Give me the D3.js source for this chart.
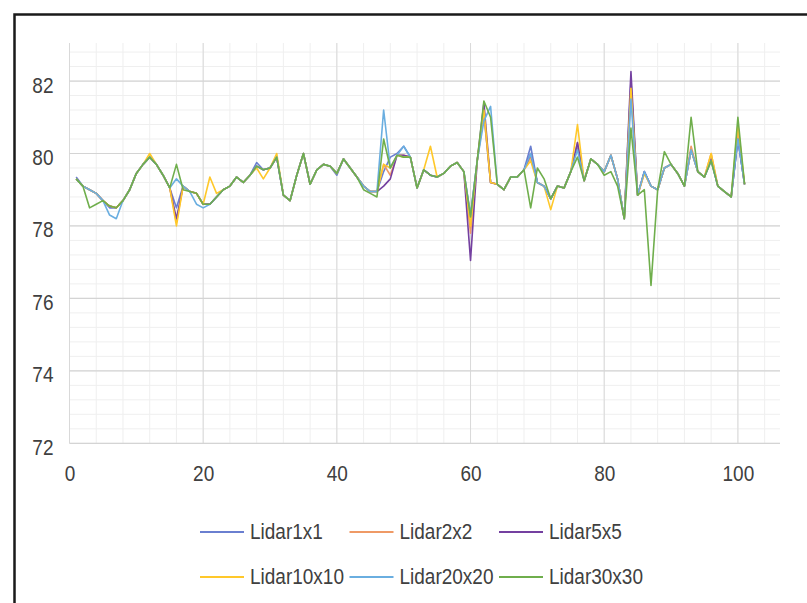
<!DOCTYPE html>
<html>
<head>
<meta charset="utf-8">
<script src="https://cdn.jsdelivr.net/npm/d3@7"></script>
<style>
  body { margin: 0; background: #fff; }
  text { font-family: "Liberation Sans", Arial, sans-serif; fill: #404040; }
</style>
</head>
<body>
<div id="chart"></div>
<script>
// sample index 1..101
var xs = d3.range(1, 102);

var lidar1x1 = [79.35,79.1,79.0,78.9,78.7,78.5,78.5,78.7,79.0,79.45,79.7,79.9,79.7,79.4,79.05,78.5,79.1,78.95,78.9,78.6,78.6,78.8,79.0,79.1,79.35,79.2,79.4,79.75,79.55,79.6,79.9,78.85,78.7,79.4,80.0,79.15,79.55,79.7,79.65,79.4,79.85,79.6,79.35,79.1,78.95,78.95,79.5,79.9,80.0,80.2,79.9,79.05,79.55,79.4,79.35,79.45,79.65,79.75,79.5,78.3,79.8,81.1,79.2,79.15,79.0,79.35,79.35,79.55,80.2,79.2,79.1,78.75,79.1,79.05,79.5,80.2,79.25,79.85,79.7,79.5,79.95,79.3,78.2,82.0,78.85,79.5,79.1,79.0,79.6,79.7,79.45,79.1,80.1,79.5,79.35,79.8,79.1,78.95,78.8,80.4,79.15];
var lidar2x2 = [79.3,79.1,79.0,78.9,78.7,78.55,78.5,78.7,79.0,79.45,79.7,79.9,79.7,79.4,79.05,78.1,79.1,78.95,78.9,78.6,78.6,78.8,79.0,79.1,79.35,79.2,79.4,79.65,79.55,79.6,79.9,78.85,78.7,79.4,80.0,79.15,79.55,79.7,79.65,79.45,79.85,79.6,79.35,79.1,78.95,78.95,79.7,79.4,79.95,79.95,79.9,79.05,79.55,79.4,79.35,79.45,79.65,79.75,79.5,77.8,79.8,81.1,79.2,79.15,79.0,79.35,79.35,79.55,79.9,79.2,79.1,78.75,79.1,79.05,79.5,80.3,79.25,79.85,79.7,79.5,79.95,79.3,78.2,81.8,78.85,79.45,79.1,79.0,79.6,79.7,79.45,79.1,80.2,79.5,79.35,80.0,79.1,78.95,78.8,80.6,79.15];
var lidar5x5 = [79.3,79.1,79.0,78.9,78.7,78.55,78.5,78.7,79.0,79.45,79.7,79.9,79.7,79.4,79.05,78.2,79.1,78.95,78.9,78.6,78.6,78.8,79.0,79.1,79.35,79.2,79.4,79.65,79.55,79.6,79.9,78.85,78.7,79.4,80.0,79.15,79.55,79.7,79.65,79.45,79.85,79.6,79.35,79.1,78.95,78.95,79.1,79.3,79.95,79.95,79.9,79.05,79.55,79.4,79.35,79.45,79.65,79.75,79.5,77.05,79.8,81.4,79.2,79.15,79.0,79.35,79.35,79.55,80.0,79.2,79.1,78.75,79.1,79.05,79.5,80.3,79.25,79.85,79.7,79.5,79.95,79.3,78.2,82.26,78.85,79.5,79.1,79.0,79.6,79.7,79.45,79.1,80.1,79.5,79.35,79.85,79.1,78.95,78.8,80.4,79.15];
var lidar10x10 = [79.3,79.1,79.0,78.9,78.7,78.55,78.5,78.7,79.0,79.45,79.7,80.0,79.7,79.4,79.05,78.0,79.1,78.95,78.9,78.6,79.35,78.9,79.0,79.1,79.35,79.2,79.4,79.6,79.3,79.6,80.0,78.85,78.7,79.4,80.0,79.15,79.55,79.7,79.65,79.45,79.85,79.6,79.35,79.1,78.95,78.95,79.7,79.6,79.95,79.9,79.9,79.05,79.55,80.2,79.35,79.45,79.65,79.75,79.5,78.0,79.8,81.2,79.2,79.15,79.0,79.35,79.35,79.55,79.8,79.2,79.1,78.45,79.1,79.05,79.5,80.8,79.25,79.85,79.7,79.5,79.95,79.3,78.2,81.8,78.85,79.45,79.1,79.0,79.6,79.7,79.45,79.1,80.1,79.5,79.35,80.0,79.1,78.95,78.8,80.8,79.15];
var lidar20x20 = [79.3,79.1,79.0,78.9,78.7,78.3,78.2,78.7,79.0,79.45,79.7,79.9,79.7,79.4,79.05,79.3,79.1,78.95,78.6,78.5,78.6,78.8,79.0,79.1,79.35,79.2,79.4,79.65,79.55,79.6,79.9,78.85,78.7,79.4,80.0,79.15,79.55,79.7,79.65,79.45,79.85,79.6,79.35,79.1,78.95,78.95,81.2,79.6,79.95,80.2,79.9,79.05,79.55,79.4,79.35,79.45,79.65,79.75,79.5,78.3,79.8,80.9,81.3,79.15,79.0,79.35,79.35,79.55,80.0,79.2,79.1,78.75,79.1,79.05,79.5,80.1,79.25,79.85,79.7,79.5,79.95,79.3,78.2,81.5,78.85,79.5,79.1,79.0,79.6,79.7,79.45,79.1,80.1,79.5,79.35,79.8,79.1,78.95,78.8,80.4,79.15];
var lidar30x30 = [79.3,79.1,78.5,78.6,78.7,78.55,78.5,78.7,79.0,79.45,79.7,79.9,79.7,79.4,79.05,79.7,79.0,78.95,78.9,78.6,78.6,78.8,79.0,79.1,79.35,79.2,79.4,79.65,79.55,79.6,79.9,78.85,78.7,79.4,80.0,79.15,79.55,79.7,79.65,79.45,79.85,79.6,79.35,79.0,78.9,78.8,80.4,79.6,79.95,79.9,79.9,79.05,79.55,79.4,79.35,79.45,79.65,79.75,79.5,78.25,79.8,81.45,81.0,79.15,79.0,79.35,79.35,79.55,78.5,79.6,79.3,78.75,79.1,79.05,79.5,79.9,79.25,79.85,79.7,79.4,79.5,79.1,78.2,80.7,78.85,79.0,76.36,79.0,80.05,79.7,79.45,79.1,81.0,79.5,79.35,79.8,79.1,78.95,78.8,81.0,79.15];

var seriesNames = ["Lidar1x1", "Lidar2x2", "Lidar5x5", "Lidar10x10", "Lidar20x20", "Lidar30x30"];
var seriesData = [lidar1x1, lidar2x2, lidar5x5, lidar10x10, lidar20x20, lidar30x30];
var seriesColors = ["#6a7fd0", "#ef9a66", "#7440a0", "#ffc82a", "#6aaee0", "#6fae4c"];

var xTicks = [0, 20, 40, 60, 80, 100];
var yTicks = [72, 74, 76, 78, 80, 82];

var W = 807, H = 603;
var plot = {left: 69.5, right: 780, top: 43, bottom: 443.3};
var stretch = 1.15; // text in the picture is a bit tall and narrow

var svg = d3.select("#chart").append("svg")
	.attr("width", W)
	.attr("height", H);

// outer frame (runs off the right and bottom of the picture)
svg.append("rect")
	.attr("x", 14.5).attr("y", 14.5)
	.attr("width", W).attr("height", H)
	.style("fill", "none")
	.style("stroke", "#1a1a1a")
	.style("stroke-width", 2.5);

var x = d3.scaleLinear().domain([0, 106.3]).range([plot.left, plot.right]);
var y = d3.scaleLinear().domain([72, 83.05]).range([plot.bottom, plot.top]);

// minor grid
var g = svg.append("g");
g.selectAll(".vminor")
	.data(d3.range(0, 107, 4))
	.enter().append("line")
	.attr("x1", function(d){ return x(d); }).attr("x2", function(d){ return x(d); })
	.attr("y1", plot.top).attr("y2", plot.bottom)
	.style("stroke", "#efefef").style("stroke-width", 1);
g.selectAll(".hminor")
	.data(d3.range(72, 83.01, 0.4))
	.enter().append("line")
	.attr("x1", plot.left).attr("x2", plot.right)
	.attr("y1", function(d){ return y(d); }).attr("y2", function(d){ return y(d); })
	.style("stroke", "#efefef").style("stroke-width", 1);

// major grid
g.selectAll(".vmajor")
	.data(xTicks)
	.enter().append("line")
	.attr("x1", function(d){ return x(d); }).attr("x2", function(d){ return x(d); })
	.attr("y1", plot.top).attr("y2", plot.bottom)
	.style("stroke", "#d9d9d9").style("stroke-width", 1);
g.selectAll(".hmajor")
	.data(yTicks)
	.enter().append("line")
	.attr("x1", plot.left).attr("x2", plot.right)
	.attr("y1", function(d){ return y(d); }).attr("y2", function(d){ return y(d); })
	.style("stroke", "#d4d4d4").style("stroke-width", 1.2);

// axes labels (no domain lines, Excel style)
var yAxis = d3.axisLeft(y).tickValues(yTicks).tickSize(0).tickPadding(16);
svg.append("g")
	.attr("transform", "translate(" + plot.left + ",4)")
	.call(yAxis)
	.call(function(s){ s.select(".domain").remove(); })
	.selectAll("text")
	.attr("transform", "scale(1," + stretch + ")")
	.style("font-size", "19px")
	.style("font-family", null)
	.attr("fill", null);

var xAxis = d3.axisBottom(x).tickValues(xTicks).tickSize(0).tickPadding(19.5);
svg.append("g")
	.attr("transform", "translate(0," + plot.bottom + ")")
	.call(xAxis)
	.call(function(s){ s.select(".domain").remove(); })
	.selectAll("text")
	.attr("transform", "scale(1," + stretch + ")")
	.style("font-size", "19px")
	.style("font-family", null)
	.attr("fill", null);

// series lines
var line = d3.line()
	.x(function(d, i){ return x(xs[i]); })
	.y(function(d){ return y(d); });

svg.selectAll(".series")
	.data(seriesData)
	.enter().append("path")
	.attr("d", line)
	.style("fill", "none")
	.style("stroke", function(d, i){ return seriesColors[i]; })
	.style("stroke-width", 1.6)
	.style("stroke-linejoin", "round");

// legend, two rows of three
var legend = svg.selectAll(".legend")
	.data(seriesNames)
	.enter().append("g")
	.attr("transform", function(d, i){
		return "translate(" + (200 + (i % 3) * 149.5) + "," + (532 + Math.floor(i / 3) * 45) + ")";
	});
legend.append("line")
	.attr("x1", 0).attr("x2", 44)
	.attr("y1", 0).attr("y2", 0)
	.style("stroke", function(d, i){ return seriesColors[i]; })
	.style("stroke-width", 2);
legend.append("text")
	.attr("transform", "translate(50,7) scale(1," + stretch + ")")
	.style("font-size", "19px")
	.text(function(d){ return d; });
</script>
</body>
</html>
